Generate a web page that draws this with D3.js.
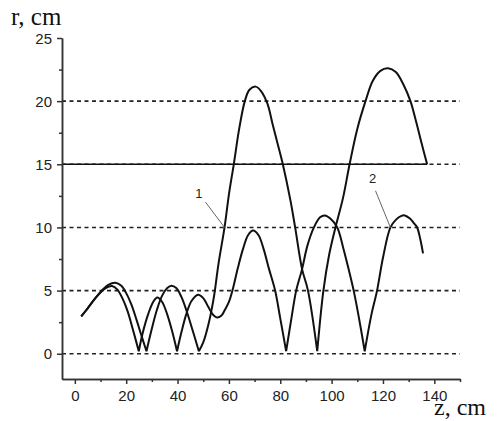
<!DOCTYPE html>
<html>
<head>
<meta charset="utf-8">
<script src="https://cdn.jsdelivr.net/npm/d3@7"></script>
<style>
  body { margin: 0; background: #fff; }
  .tick text { font-family: "Liberation Sans", Arial, sans-serif; font-size: 15px; fill: #222; }
</style>
</head>
<body>
<svg id="chart"></svg>
<script>
"use strict";

// curve 1 (z, cm / r, cm)
var z1 = [2.5, 5, 8, 11, 13, 15.8, 18, 20, 22, 24, 26, 27.9, 30, 32, 34, 36, 37.6, 39.5, 41.5, 43.5, 45.5, 48.3,
  50, 52, 54, 56, 58.3, 60, 61.9, 64, 66.2, 68, 70.4, 72.5, 75, 77, 79, 81, 84, 85.8, 88.5, 90.8, 94.4,
  96.8, 99, 101.5, 104.4, 107, 110, 113.2, 116, 119, 122, 125, 128, 130.7, 133, 135, 137.2];
var r1 = [2.95, 3.6, 4.4, 5.1, 5.45, 5.62, 5.4, 4.8, 3.9, 2.7, 1.4, 0.2, 2.0, 3.5, 4.6, 5.2, 5.38, 5.2, 4.5, 3.4, 2.1, 0.2,
  0.9, 2.3, 4.3, 7.2, 10, 12.6, 15, 17.8, 20, 20.9, 21.15, 20.8, 19.8, 18.2, 16.6, 15, 12.1, 10, 6.7, 5, 0.2,
  5, 7.8, 10, 12.3, 15, 17.8, 20, 21.6, 22.4, 22.6, 22.3, 21.3, 20, 18.3, 16.7, 15];

// curve 2
var z2 = [2.5, 5, 8, 11, 13, 14.5, 16.5, 18.5, 20.5, 22.5, 24.9, 26.5, 28.5, 30.5, 32.1, 34, 36, 38, 39.8,
  41.5, 43.5, 45.5, 48, 50, 52, 54, 55.4, 57, 58.5, 60, 61.5, 63.5, 65.5, 67.5, 69.4, 71.5, 73.5, 75.5, 78, 80, 82.3,
  84.5, 86.2, 88.5, 90.5, 93.1, 95.5, 97.4, 99.5, 102.2, 104.5, 106.5, 108.6, 110.5, 112.9,
  115.5, 117.7, 120, 122.9, 125, 127, 128.5, 130.5, 132, 133.3, 134.5, 135.6];
var r2 = [2.95, 3.6, 4.4, 5.05, 5.3, 5.36, 5.1, 4.4, 3.4, 2.0, 0.2, 1.7, 3.1, 4.1, 4.45, 4.1, 3.1, 1.7, 0.2,
  1.7, 3.2, 4.2, 4.67, 4.4, 3.7, 3.05, 2.87, 3.0, 3.5, 4.1, 5.1, 6.8, 8.3, 9.4, 9.75, 9.4, 8.3, 6.8, 5, 2.8, 0.2,
  3, 5, 6.7, 8.5, 10, 10.8, 10.95, 10.7, 10, 8.4, 6.8, 5, 3, 0.2,
  3.1, 5, 7.6, 10, 10.6, 10.9, 10.95, 10.7, 10.35, 10, 9.1, 7.95];

var gridR = [0, 5, 10, 20];
var wallR = 15, wallEnd = 137.2;
var xMajor = [0, 20, 40, 60, 80, 100, 120, 140];
var xMinor = [10, 30, 50, 70, 90, 110, 130, 150];
var yMajor = [0, 5, 10, 15, 20, 25];
var yMinor = [2.5, 7.5, 12.5, 17.5, 22.5];

// curve labels: [text, label z, label r, leader start z, r, leader end z, r]
var labels = [
  ["1", 48.3, 12.7, 50.9, 12.0, 58.3, 10],
  ["2", 116, 13.9, 117.1, 12.9, 122.9, 10]
];

var width = 497, height = 421;

var svg = d3.select("#chart")
  .attr("width", width)
  .attr("height", height);

var x = d3.scaleLinear().domain([-5, 150]).range([62, 460]);
var y = d3.scaleLinear().domain([-2, 25]).range([379, 38]);

// dashed levels
svg.selectAll("line.grid")
  .data(gridR.concat([wallR]))
  .enter()
  .append("line")
  .attr("class", "grid")
  .attr("x1", x(-5))
  .attr("x2", x(150))
  .attr("y1", function (d) { return y(d); })
  .attr("y2", function (d) { return y(d); })
  .style("stroke", "#222")
  .style("stroke-width", 1.6)
  .style("stroke-dasharray", "4,3.5");

// solid r = 15 line
svg.append("line")
  .attr("x1", x(-5))
  .attr("x2", x(wallEnd))
  .attr("y1", y(wallR))
  .attr("y2", y(wallR))
  .style("stroke", "#111")
  .style("stroke-width", 1.6);

// axes
svg.append("g")
  .attr("transform", "translate(0," + y(-2) + ")")
  .call(d3.axisBottom(x).tickValues(xMajor).tickSize(5).tickSizeOuter(0).tickPadding(6));
svg.append("g")
  .attr("transform", "translate(0," + y(-2) + ")")
  .call(d3.axisBottom(x).tickValues(xMinor).tickSize(3).tickSizeOuter(0).tickFormat(""));

var yAxis = svg.append("g")
  .attr("transform", "translate(" + x(-5) + ",0)")
  .call(d3.axisLeft(y).tickValues(yMajor).tickSize(5).tickSizeOuter(0).tickPadding(5));
svg.append("g")
  .attr("transform", "translate(" + x(-5) + ",0)")
  .call(d3.axisLeft(y).tickValues(yMinor).tickSize(3).tickSizeOuter(0).tickFormat(""));

svg.selectAll(".domain, .tick line")
  .style("stroke", "#333")
  .style("stroke-width", 1.5);

yAxis.selectAll(".tick text").attr("dy", "0.35em");

// curves: smooth arcs, sharp at the zeros
var line = d3.line()
  .x(function (d) { return x(d[0]); })
  .y(function (d) { return y(d[1]); })
  .curve(d3.curveCatmullRom.alpha(0.5));

function arcs(pts) {
  var out = [], cur = [];
  pts.forEach(function (p, i) {
    cur.push(p);
    if (p[1] <= 0.25 && i > 0 && i < pts.length - 1) {
      out.push(cur);
      cur = [p];
    }
  });
  out.push(cur);
  return out;
}

[d3.zip(z1, r1), d3.zip(z2, r2)].forEach(function (pts) {
  svg.append("path")
    .attr("d", arcs(pts).map(line).join(""))
    .style("fill", "none")
    .style("stroke", "#111")
    .style("stroke-width", 2)
    .style("stroke-linejoin", "round");
});

// curve labels with leaders
labels.forEach(function (l) {
  svg.append("text")
    .attr("x", x(l[1]))
    .attr("y", y(l[2]))
    .attr("dy", "0.35em")
    .attr("text-anchor", "middle")
    .style("font-family", "Liberation Sans, Arial, sans-serif")
    .style("font-size", "13px")
    .style("fill", "#222")
    .text(l[0]);
  svg.append("line")
    .attr("x1", x(l[3]))
    .attr("y1", y(l[4]))
    .attr("x2", x(l[5]))
    .attr("y2", y(l[6]))
    .style("stroke", "#666")
    .style("stroke-width", 1);
});

// axis titles
svg.append("text")
  .attr("x", 11)
  .attr("y", 25)
  .style("font-family", "Liberation Serif, Times New Roman, serif")
  .style("font-size", "25px")
  .style("fill", "#111")
  .text("r, cm");

svg.append("text")
  .attr("x", 434)
  .attr("y", 415)
  .style("font-family", "Liberation Serif, Times New Roman, serif")
  .style("font-size", "24px")
  .style("fill", "#111")
  .text("z, cm");
</script>
</body>
</html>
